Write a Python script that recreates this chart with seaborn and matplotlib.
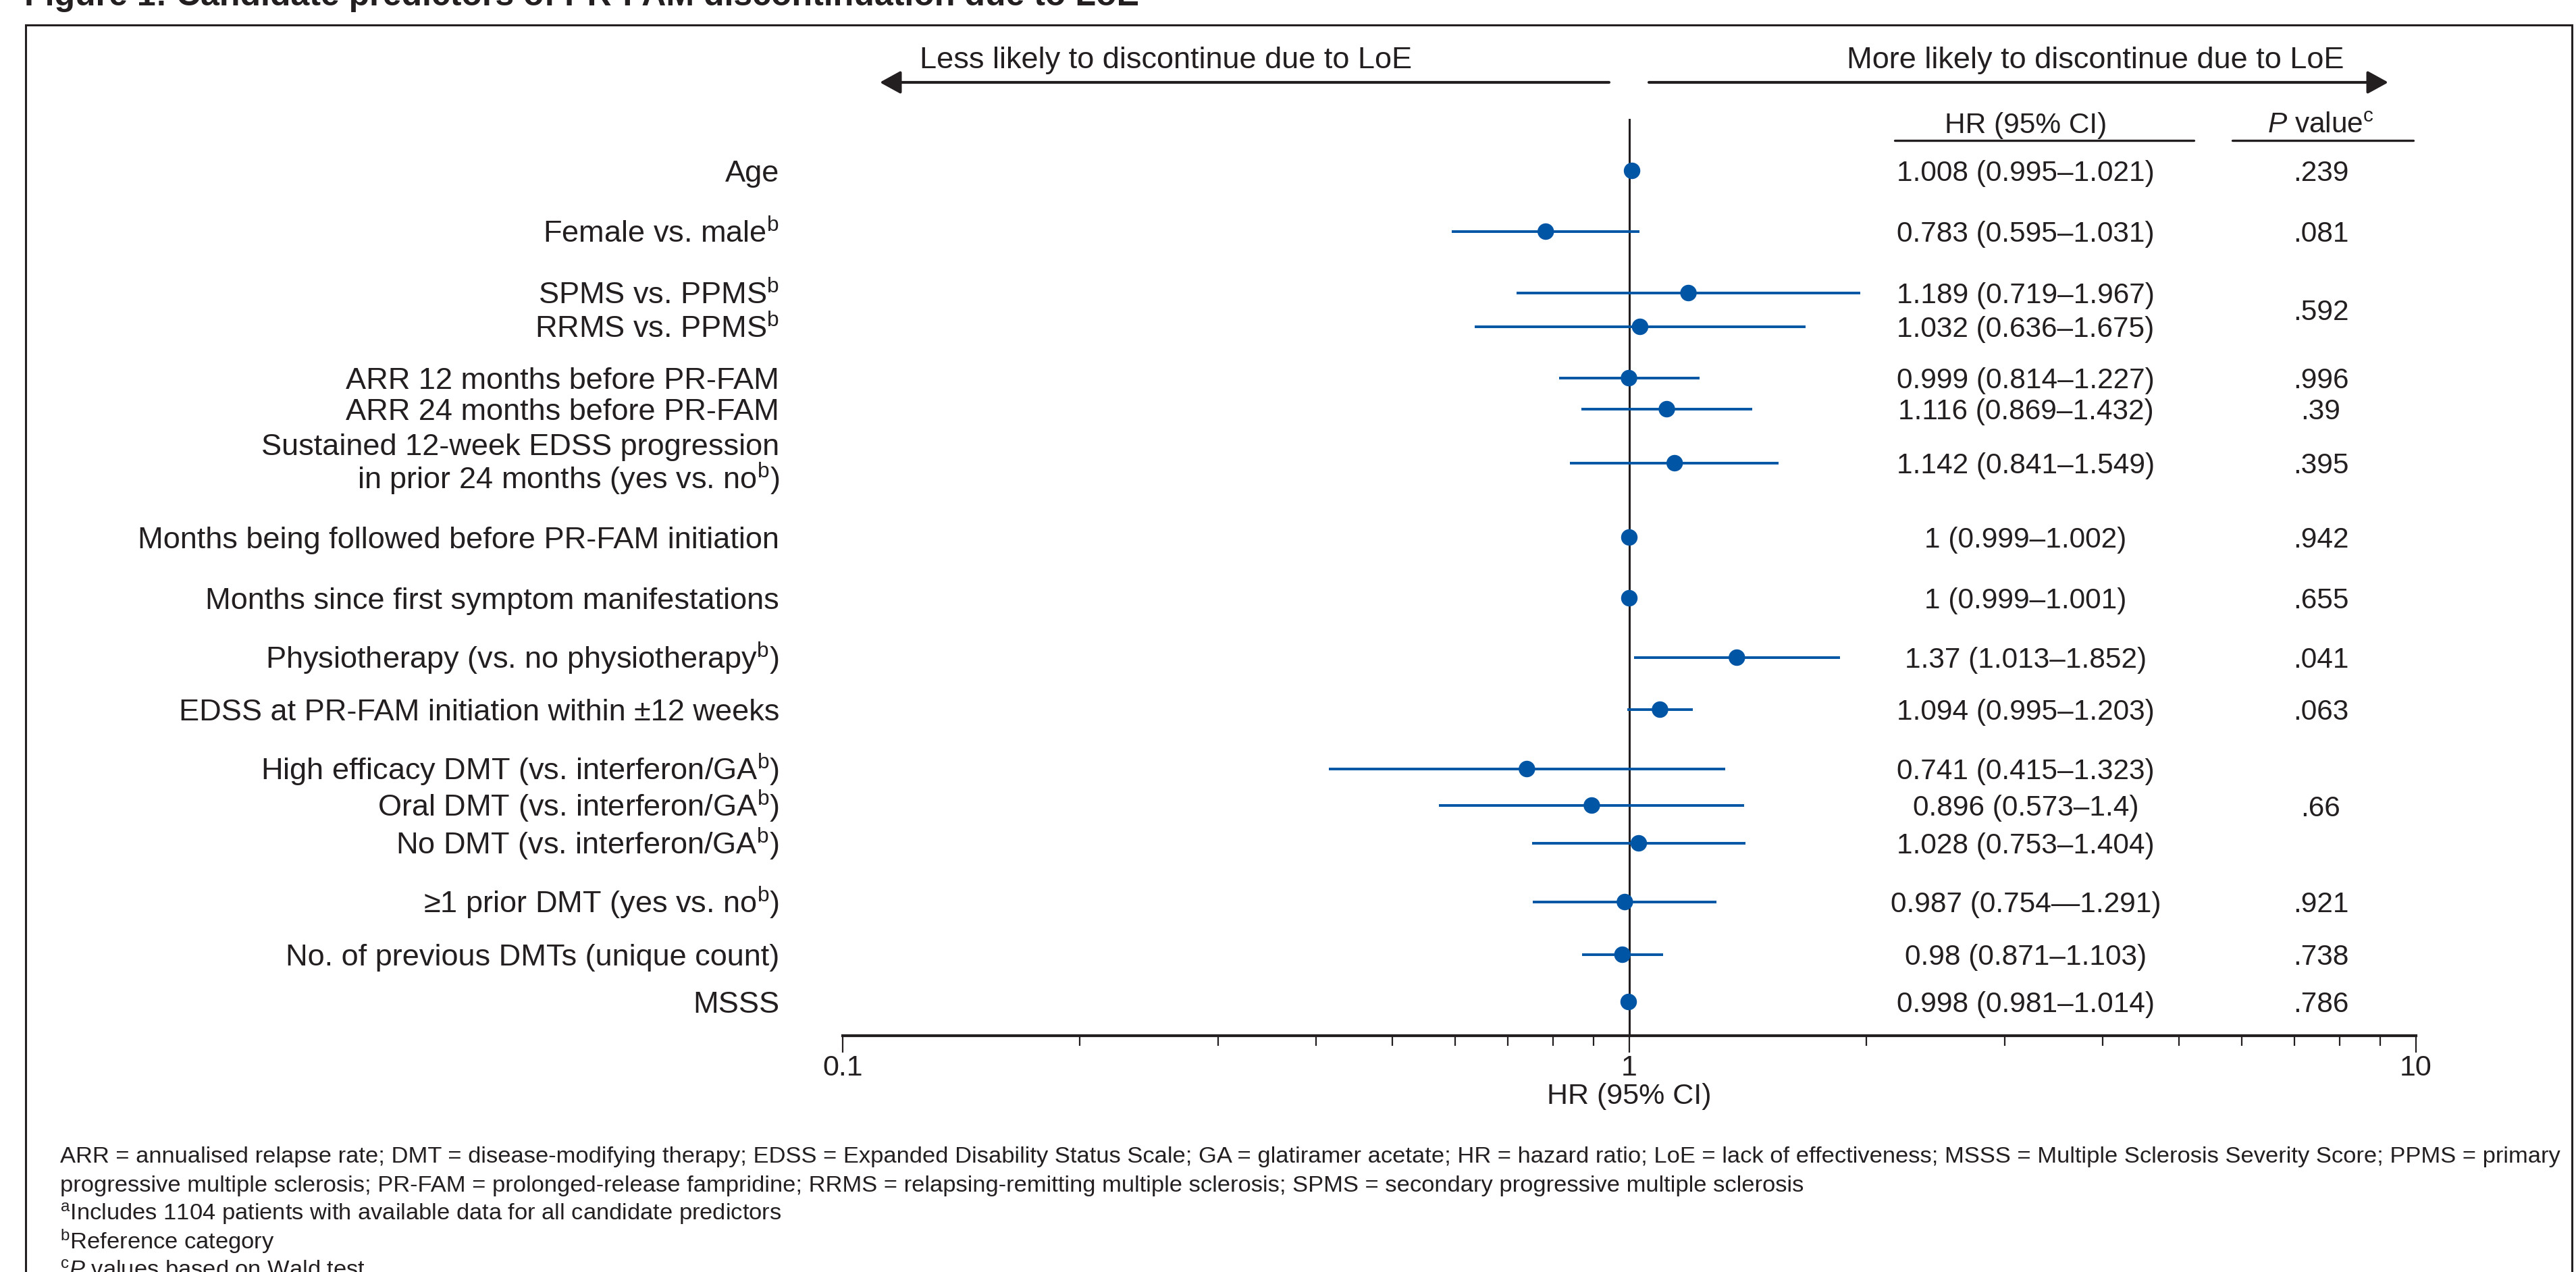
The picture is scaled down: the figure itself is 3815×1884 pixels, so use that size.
import matplotlib
matplotlib.use("Agg")
import matplotlib.pyplot as plt
import seaborn as sns
import pandas as pd
from matplotlib.lines import Line2D
from matplotlib.patches import Rectangle, FancyArrowPatch
from matplotlib.ticker import FixedLocator, FixedFormatter, LogLocator, NullFormatter

# data
labels = [
    "Age",
    r"Female vs. male$^{\mathrm{b}}$",
    r"SPMS vs. PPMS$^{\mathrm{b}}$",
    r"RRMS vs. PPMS$^{\mathrm{b}}$",
    "ARR 12 months before PR-FAM",
    "ARR 24 months before PR-FAM",
    "Sustained 12-week EDSS progression\n" + r"in prior 24 months (yes vs. no$^{\mathrm{b}}$)",
    "Months being followed before PR-FAM initiation",
    "Months since first symptom manifestations",
    r"Physiotherapy (vs. no physiotherapy$^{\mathrm{b}}$)",
    "EDSS at PR-FAM initiation within ±12 weeks",
    r"High efficacy DMT (vs. interferon/GA$^{\mathrm{b}}$)",
    r"Oral DMT (vs. interferon/GA$^{\mathrm{b}}$)",
    r"No DMT (vs. interferon/GA$^{\mathrm{b}}$)",
    r"≥1 prior DMT (yes vs. no$^{\mathrm{b}}$)",
    "No. of previous DMTs (unique count)",
    "MSSS",
]
hr = [1.008, 0.783, 1.189, 1.032, 0.999, 1.116, 1.142, 1.0, 1.0, 1.37, 1.094,
      0.741, 0.896, 1.028, 0.987, 0.98, 0.998]
ci_low = [0.995, 0.595, 0.719, 0.636, 0.814, 0.869, 0.841, 0.999, 0.999, 1.013, 0.995,
          0.415, 0.573, 0.753, 0.754, 0.871, 0.981]
ci_high = [1.021, 1.031, 1.967, 1.675, 1.227, 1.432, 1.549, 1.002, 1.001, 1.852, 1.203,
           1.323, 1.4, 1.404, 1.291, 1.103, 1.014]
hr_text = [
    "1.008 (0.995–1.021)", "0.783 (0.595–1.031)", "1.189 (0.719–1.967)",
    "1.032 (0.636–1.675)", "0.999 (0.814–1.227)", "1.116 (0.869–1.432)",
    "1.142 (0.841–1.549)", "1 (0.999–1.002)", "1 (0.999–1.001)",
    "1.37 (1.013–1.852)", "1.094 (0.995–1.203)", "0.741 (0.415–1.323)",
    "0.896 (0.573–1.4)", "1.028 (0.753–1.404)", "0.987 (0.754—1.291)",
    "0.98 (0.871–1.103)", "0.998 (0.981–1.014)",
]
p_values = [".239", ".081", ".592", ".996", ".39", ".395", ".942", ".655",
            ".041", ".063", ".66", ".921", ".738", ".786"]
p_rows = [(0, 0), (1, 1), (2, 3), (4, 4), (5, 5), (6, 6), (7, 7), (8, 8),
          (9, 9), (10, 10), (11, 13), (14, 14), (15, 15), (16, 16)]

footnotes = [
    "ARR = annualised relapse rate; DMT = disease-modifying therapy; EDSS = Expanded Disability Status Scale; "
    "GA = glatiramer acetate; HR = hazard ratio; LoE = lack of effectiveness; MSSS = Multiple Sclerosis Severity Score; PPMS = primary",
    "progressive multiple sclerosis; PR-FAM = prolonged-release fampridine; RRMS = relapsing-remitting multiple sclerosis; "
    "SPMS = secondary progressive multiple sclerosis",
    r"${}^{\mathrm{a}}$Includes 1104 patients with available data for all candidate predictors",
    r"${}^{\mathrm{b}}$Reference category",
    r"${}^{\mathrm{c}}$$\mathit{P}$ values based on Wald test",
]

# layout (pixels from top of the image)
W, H = 3816, 1884
row_y = [253, 343, 434, 484, 560, 606, 686, 796, 886, 974, 1051,
         1139, 1193, 1249, 1336, 1414, 1484]
ax_top, ax_bottom = 176, 1534
x_lo, x_hi = 1248, 3578

dark = "#231f20"
blue = "#0055a5"

sns.set_theme(style="white")
plt.rcParams["font.family"] = ["Liberation Sans", "DejaVu Sans"]
plt.rcParams["mathtext.fontset"] = "custom"
plt.rcParams["mathtext.rm"] = "Liberation Sans"
plt.rcParams["mathtext.it"] = "Liberation Sans:italic"
plt.rcParams["mathtext.bf"] = "Liberation Sans:bold"
plt.rcParams["text.color"] = dark


def fx(x):
    return x / W


def fy(y):
    return 1 - y / H


fig = plt.figure(figsize=(W / 100, H / 100), dpi=100)
ax = fig.add_axes([fx(x_lo), fy(ax_bottom), fx(x_hi) - fx(x_lo), fy(ax_top) - fy(ax_bottom)])

df = pd.DataFrame({"hr": hr, "lo": ci_low, "hi": ci_high, "y": row_y})

ax.axvline(1, color=dark, lw=2.2, zorder=1)
ax.hlines(df["y"], df["lo"], df["hi"], color=blue, lw=2.8, zorder=2)
sns.scatterplot(data=df, x="hr", y="y", ax=ax, s=310, color=blue,
                edgecolor="none", zorder=3, legend=False)

ax.set_xscale("log")
ax.set_xlim(0.1, 10)
ax.set_ylim(ax_bottom, ax_top)
ax.xaxis.set_major_locator(FixedLocator([0.1, 1, 10]))
ax.xaxis.set_major_formatter(FixedFormatter(["0.1", "1", "10"]))
ax.xaxis.set_minor_locator(LogLocator(base=10, subs=range(2, 10)))
ax.xaxis.set_minor_formatter(NullFormatter())
ax.tick_params(axis="x", which="major", bottom=True, length=18, width=1.6,
               color=dark, labelsize=31, labelcolor=dark, pad=2, direction="out")
ax.tick_params(axis="x", which="minor", bottom=True, length=11, width=1.6,
               color=dark, direction="out")
ax.set_yticks([])
ax.set_xlabel("")
ax.set_ylabel("")
for side in ["top", "left", "right"]:
    ax.spines[side].set_visible(False)
ax.spines["bottom"].set_color(dark)
ax.spines["bottom"].set_linewidth(3)
ax.patch.set_alpha(0)

# x axis title, centred under HR = 1
fig.text(fx((x_lo + x_hi) / 2), fy(1624), "HR (95% CI)", ha="center", va="center",
         fontsize=31)

# row labels and values
for i, lab in enumerate(labels):
    y = row_y[i]
    if "\n" in lab:
        fig.text(fx(1154), fy(y + 3), lab, ha="right", va="center", fontsize=32.5,
                 multialignment="right", linespacing=1.0)
    else:
        fig.text(fx(1154), fy(y + 16), lab, ha="right", va="baseline", fontsize=32.5)
    fig.text(fx(3000), fy(y + 15), hr_text[i], ha="center", va="baseline", fontsize=30.5)

for p, (a, b) in zip(p_values, p_rows):
    y = (row_y[a] + row_y[b]) / 2
    fig.text(fx(3437), fy(y + 15), p, ha="center", va="baseline", fontsize=30.5)

# column headers
fig.text(fx(3000), fy(197), "HR (95% CI)", ha="center", va="baseline", fontsize=30.5)
fig.text(fx(3437), fy(197), r"$\mathit{P}$ value$^{\mathrm{c}}$", ha="center",
         va="baseline", fontsize=30.5)
for x0, x1 in [(2806, 3249), (3306, 3574)]:
    fig.add_artist(Line2D([fx(x0), fx(x1)], [fy(208), fy(208)], color=dark, lw=2.4,
                          transform=fig.transFigure))

# direction arrows
arrow_style = "-|>,head_length=0.4,head_width=0.22"
fig.add_artist(FancyArrowPatch((fx(2383), fy(122)), (fx(1303), fy(122)),
                               transform=fig.transFigure, arrowstyle=arrow_style,
                               mutation_scale=47, lw=3, color=dark, shrinkA=0, shrinkB=0))
fig.add_artist(FancyArrowPatch((fx(2442), fy(122)), (fx(3537), fy(122)),
                               transform=fig.transFigure, arrowstyle=arrow_style,
                               mutation_scale=47, lw=3, color=dark, shrinkA=0, shrinkB=0))
fig.text(fx(1362), fy(101), "Less likely to discontinue due to LoE", ha="left",
         va="baseline", fontsize=32.5)
fig.text(fx(3472), fy(101), "More likely to discontinue due to LoE", ha="right",
         va="baseline", fontsize=32.5)

# frame and title (title is cropped at the top edge, as in the source)
fig.add_artist(Rectangle((fx(38), fy(1950)), fx(3809) - fx(38), fy(37) - fy(1950),
                         transform=fig.transFigure, fill=False, lw=2.2, ec=dark))
fig.text(fx(36), fy(8), "Figure 1: Candidate predictors of PR-FAM discontinuation due to LoE",
         ha="left", va="baseline", fontsize=36, fontweight="bold")

# footnotes
for k, line in enumerate(footnotes):
    fig.text(fx(89), fy(1722 + 42.5 * k), line, ha="left", va="baseline", fontsize=24.8)

fig.savefig("out.png", dpi=100)
